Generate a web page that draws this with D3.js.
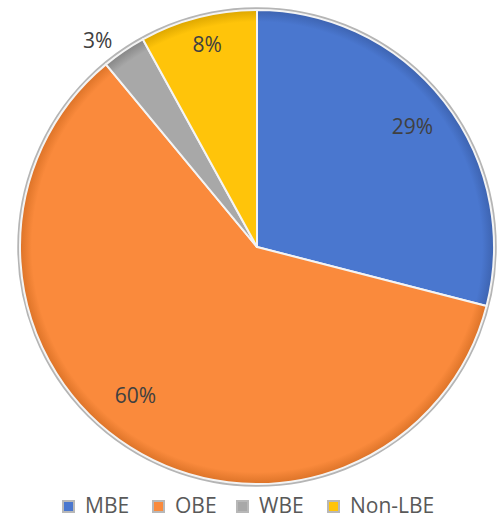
<!DOCTYPE html>
<html><head><meta charset="utf-8">
<script src="https://cdn.jsdelivr.net/npm/d3@7"></script>
<style>body{margin:0;background:#fff}svg{display:block}</style>
</head><body>
<svg id="c" width="500" height="519"></svg>
<script>
const categories = ["MBE", "OBE", "WBE", "Non-LBE"];
const values = [29, 60, 3, 8];
const labels = ["29%", "60%", "3%", "8%"];
const colors = ["#4a77cf", "#fa8a3c", "#a8a8a8", "#ffc40a"];
const darkColors = ["#3d63b0", "#dc7328", "#858585", "#dca600"];
// label placement: radius fraction and angular nudge (radians)
const labelRadius = [0.83, 0.81, 1.10, 0.88];
const labelNudge = [0, 0.12, -0.06, 0.01];

const svg = d3.select("#c");
const cx = 257, cy = 247, r = 237;
const defs = svg.append("defs");
colors.forEach((c, i) => {
  const g = defs.append("radialGradient").attr("id", "g" + i)
    .attr("gradientUnits", "userSpaceOnUse").attr("cx", 0).attr("cy", 0).attr("r", r);
  g.append("stop").attr("offset", "0%").attr("stop-color", c);
  g.append("stop").attr("offset", "95%").attr("stop-color", c);
  g.append("stop").attr("offset", "100%").attr("stop-color", darkColors[i]);
});

const g = svg.append("g").attr("transform", `translate(${cx},${cy})`);
g.append("circle").attr("r", r + 1.5).attr("fill", "none").attr("stroke", "#b5b5b5").attr("stroke-width", 2.5);

const pie = d3.pie().sort(null).value(d => d);
const arcs = pie(values);
const arc = d3.arc().innerRadius(0).outerRadius(r);
g.selectAll("path.s").data(arcs).join("path").attr("class", "s")
  .attr("d", arc).attr("fill", (d, i) => `url(#g${i})`)
  .attr("stroke", "#f4f4f4").attr("stroke-width", 2).attr("stroke-linejoin", "round");

g.selectAll("text.l").data(arcs).join("text").attr("class", "l")
  .attr("transform", (d, i) => {
    const a = (d.startAngle + d.endAngle) / 2 + labelNudge[i];
    const rr = r * labelRadius[i];
    return `translate(${rr * Math.sin(a)},${-rr * Math.cos(a)})`;
  })
  .attr("text-anchor", "middle").attr("dy", "0.36em")
  .style("font-family", "'Open Sans', 'Noto Sans', sans-serif").style("font-size", "21px")
  .attr("fill", "#404040").text((d, i) => labels[i]);

// legend
const legendX = [63, 153, 237, 328];
const lg = svg.append("g").attr("transform", "translate(0,505)");
categories.forEach((c, i) => {
  const it = lg.append("g").attr("transform", `translate(${legendX[i]},0)`);
  it.append("rect").attr("x", 0).attr("y", -4).attr("width", 11).attr("height", 11)
    .attr("fill", colors[i]).attr("stroke", "#b8b8b8").attr("stroke-width", 2);
  it.append("text").attr("x", 22).attr("y", 0).attr("dy", "0.36em")
    .style("font-family", "'Open Sans', 'Noto Sans', sans-serif").style("font-size", "21px")
    .attr("fill", "#595959").text(c);
});
</script>
</body></html>
